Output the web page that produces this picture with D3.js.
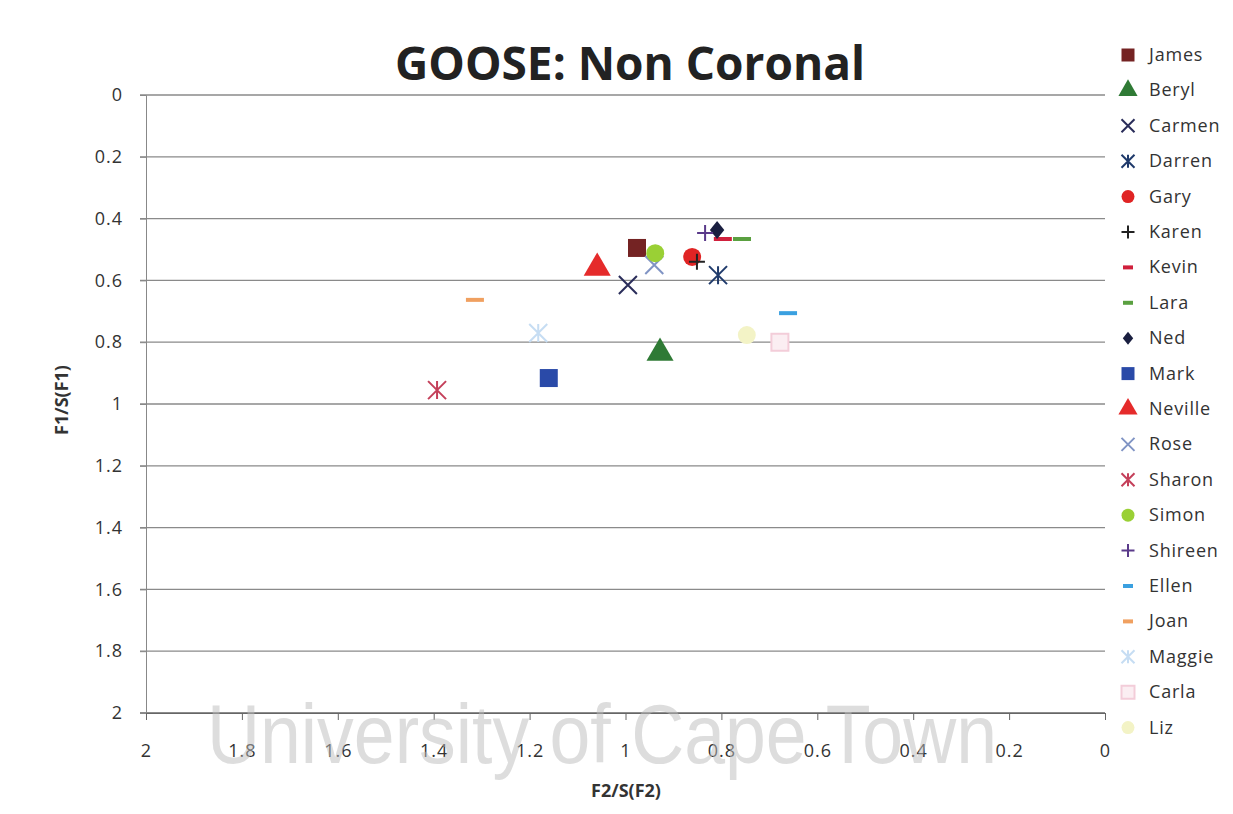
<!DOCTYPE html>
<html>
<head>
<meta charset="utf-8">
<script src="https://cdn.jsdelivr.net/npm/d3@7"></script>
<style>
  body { margin: 0; background: #fff; }
  svg { display: block; }
</style>
</head>
<body>
<svg id="chart" width="1233" height="814"></svg>
<script>
// speakers, in legend order
const speakers = ["James","Beryl","Carmen","Darren","Gary","Karen","Kevin","Lara","Ned","Mark",
  "Neville","Rose","Sharon","Simon","Shireen","Ellen","Joan","Maggie","Carla","Liz"];
// F2/S(F2)
const f2 = [0.976,0.928,0.995,0.807,0.861,0.851,0.797,0.757,0.809,1.16,
  1.059,0.94,1.393,0.938,0.834,0.661,1.314,1.182,0.678,0.747];
// F1/S(F1)
const f1 = [0.495,0.835,0.615,0.583,0.524,0.54,0.466,0.466,0.437,0.916,
  0.56,0.55,0.955,0.512,0.447,0.706,0.663,0.77,0.80,0.777];
const markers = ["square","triangle","x","star","circle","plus","dash","dash","diamond","square",
  "triangle","x","star","circle","plus","dash","dash","star","squareOpen","circle"];
const colours = ["#742323","#2f7a35","#2a2d5a","#1f3a6b","#e02424","#222222","#d0203c","#5aa040","#1a1f40","#2a4aa8",
  "#e52b2b","#8094c4","#c4405a","#9ad035","#5a3a8a","#3aa0e0","#f0a060","#c6ddf3","#f3cdd9","#f3f3c6"];
const xTicks = [2,1.8,1.6,1.4,1.2,1,0.8,0.6,0.4,0.2,0];
const yTicks = [0,0.2,0.4,0.6,0.8,1,1.2,1.4,1.6,1.8,2];

const svg = d3.select("#chart");
const font = "'Open Sans', sans-serif";

const x = d3.scaleLinear().domain([2,0]).range([146,1105]);
const y = d3.scaleLinear().domain([0,2]).range([95,713]);

// markers
function markerPath(type, s) {
  const h = s/2;
  switch (type) {
    case "square": return d3.symbol(d3.symbolSquare, s*s)();
    case "squareOpen": return d3.symbol(d3.symbolSquare, s*s)();
    case "triangle": return d3.symbol(d3.symbolTriangle, s*s*0.55)();
    case "circle": return d3.symbol(d3.symbolCircle, s*s*0.78)();
    case "diamond": return `M0,${-h}L${h*0.8},0L0,${h}L${-h*0.8},0Z`;
    case "x": return `M${-h},${-h}L${h},${h}M${h},${-h}L${-h},${h}`;
    case "plus": return `M${-h},0L${h},0M0,${-h}L0,${h}`;
    case "star": return `M${-h},${-h}L${h},${h}M${h},${-h}L${-h},${h}M0,${-h}L0,${h}`;
    case "dash": return `M${-h},0L${h},0`;
  }
}
function drawMarker(g, type, colour, s) {
  const line = ["x","plus","star"].includes(type);
  const p = g.append("path").attr("d", markerPath(type, s));
  if (line) p.attr("fill","none").attr("stroke",colour).attr("stroke-width",2);
  else if (type === "dash") p.attr("fill","none").attr("stroke",colour).attr("stroke-width",4);
  else if (type === "squareOpen") p.attr("fill","#fbeef2").attr("stroke",colour).attr("stroke-width",2);
  else p.attr("fill",colour);
}

// gridlines
svg.append("g").selectAll("line").data(yTicks).join("line")
  .attr("x1",140).attr("x2",1105)
  .attr("y1",d=>y(d)).attr("y2",d=>y(d))
  .attr("stroke",d=>d===2?"#666":"#8a8a8a").attr("stroke-width",1.3);

// y axis
const yAxis = svg.append("g").attr("transform","translate(146,0)")
  .call(d3.axisLeft(y).tickValues(yTicks).tickSize(6).tickFormat(d3.format("")));
yAxis.select(".domain").attr("stroke","#888");
yAxis.selectAll(".tick line").attr("stroke","#888");
yAxis.selectAll("text").attr("font-family",font).attr("font-size",18).attr("fill","#333")
  .attr("letter-spacing",1).attr("dx",-14);

// x axis
const xAxis = svg.append("g").attr("transform","translate(0,713)")
  .call(d3.axisBottom(x).tickValues(xTicks).tickSize(7).tickFormat(d3.format("")));
xAxis.select(".domain").attr("stroke","#666");
xAxis.selectAll(".tick line").attr("stroke","#666");
xAxis.selectAll("text").attr("font-family",font).attr("font-size",18).attr("fill","#333")
  .attr("letter-spacing",1).attr("dy",34);

// points
const pts = d3.range(speakers.length);
const sizes = {square:18,squareOpen:17,triangle:24,circle:18,diamond:18,x:18,plus:16,star:18,dash:18};
svg.append("g").selectAll("g").data(pts).join("g")
  .attr("transform",i=>`translate(${x(f2[i])},${y(f1[i])})`)
  .each(function(i){ drawMarker(d3.select(this), markers[i], colours[i], sizes[markers[i]]); });

// legend
const leg = svg.append("g").selectAll("g").data(pts).join("g")
  .attr("transform",i=>`translate(1128,${55 + i*35.4})`);
leg.each(function(i){
  const s = markers[i]==="triangle" ? 17 : markers[i]==="dash" ? 10 : 13;
  drawMarker(d3.select(this), markers[i], colours[i], s);
});
leg.append("text").attr("x",21).attr("y",6)
  .attr("font-family",font).attr("font-size",18).attr("fill","#333")
  .attr("letter-spacing",0.8)
  .text(i=>speakers[i]);

// title
svg.append("text").attr("x",630).attr("y",80).attr("text-anchor","middle")
  .attr("font-family",font).attr("font-weight","bold").attr("font-size",46).attr("fill","#222")
  .text("GOOSE: Non Coronal");

// axis titles
svg.append("text").attr("transform","translate(68,400) rotate(-90)").attr("text-anchor","middle")
  .attr("font-family",font).attr("font-weight","bold").attr("font-size",18).attr("fill","#333")
  .text("F1/S(F1)");
svg.append("text").attr("x",626).attr("y",797).attr("text-anchor","middle")
  .attr("font-family",font).attr("font-weight","bold").attr("font-size",18).attr("fill","#333")
  .text("F2/S(F2)");

// watermark
svg.append("text").attr("x",207).attr("y",763)
  .attr("textLength",790).attr("lengthAdjust","spacingAndGlyphs")
  .attr("font-family","'Liberation Sans', Arial, sans-serif").attr("font-size",84)
  .attr("fill","#bbb").attr("fill-opacity",0.5)
  .text("University of Cape Town");
</script>
</body>
</html>
